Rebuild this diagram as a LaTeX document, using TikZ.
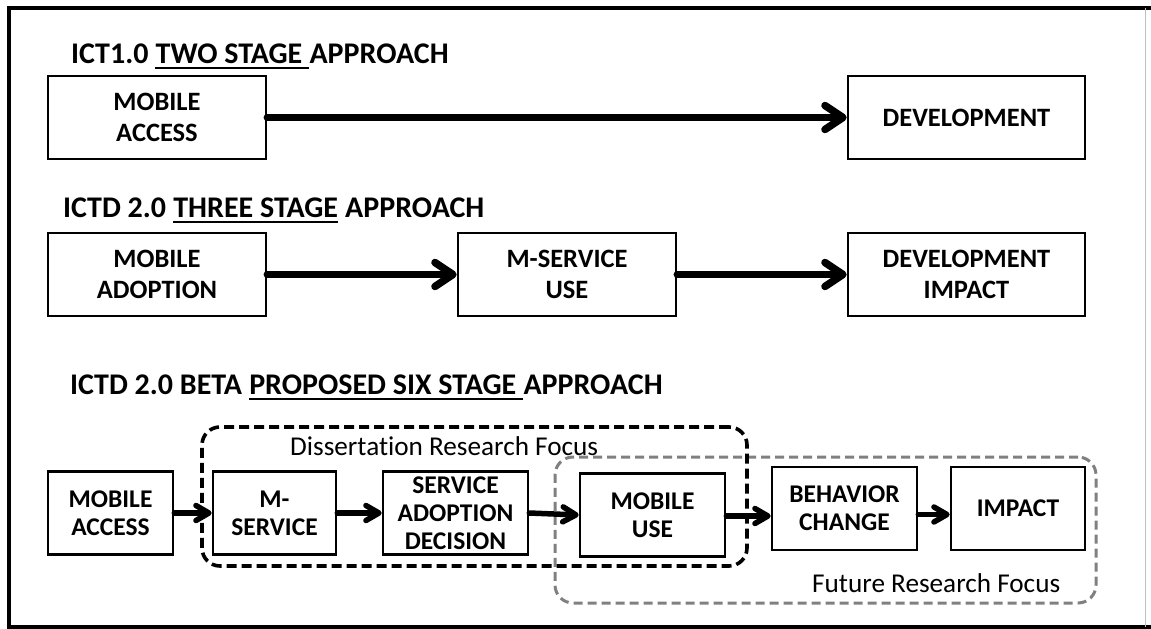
\documentclass[tikz,border=0pt]{standalone}
\usepackage{fontspec}
\setmainfont[Ligatures=NoCommon]{Carlito}
\usetikzlibrary{arrows.meta}
\begin{document}
\begin{tikzpicture}[x=1pt,y=-1pt,
  box/.style={draw=black, line width=2.6pt, fill=white, align=center, inner sep=0pt,
    font=\bfseries\fontsize{26.5}{31}\selectfont},
  sbox/.style={box, font=\bfseries\fontsize{25.5}{28}\selectfont, minimum height=83pt},
  title/.style={anchor=base west, inner sep=0pt, font=\bfseries\fontsize{30}{34}\selectfont},
  uline/.style={line width=1.8pt},
  focus/.style={anchor=base west, inner sep=0pt, font=\fontsize{27.2}{30}\selectfont},
  bigarrow/.style={line width=7.5pt, line cap=round,
    -{Straight Barb[length=18pt,width=24pt,line cap=round,line join=round]}},
  smallarrow/.style={line width=5.5pt, line cap=round,
    -{Straight Barb[length=13pt,width=15pt,line cap=round,line join=round]}},
  blackdash/.style={draw=black, line width=3.6pt, dash pattern=on 10pt off 5pt, rounded corners=18pt},
  graydash/.style={draw=black!50, line width=3pt, dash pattern=on 9pt off 5pt, rounded corners=18pt}
]
\useasboundingbox (0,0) rectangle (1151,629);
\fill[white] (0,0) rectangle (1151,629);

% frame
\draw[line width=4pt] (1151,8) -- (9,8) -- (9,627) -- (1151,627);
\draw[black!25, line width=1pt] (1145,8) -- (1145,627);

% titles
\node[title] (t1a) at (71,63) {ICT1.0\ \null};
\node[title] (t1b) at (t1a.base east) {TWO STAGE\ \null};
\node[title] (t1c) at (t1b.base east) {APPROACH};
\draw[uline] ([yshift=-5pt]t1b.base west) -- ([yshift=-5pt]t1b.base east);

\node[title] (t2a) at (63,217) {ICTD 2.0\ \null};
\node[title] (t2b) at (t2a.base east) {THREE STAGE};
\node[title] (t2c) at (t2b.base east) {\null\ APPROACH};
\draw[uline] ([yshift=-5pt]t2b.base west) -- ([yshift=-5pt]t2b.base east);

\node[title] (t3a) at (70,394) {ICTD 2.0 BETA\ \null};
\node[title] (t3b) at (t3a.base east) {PROPOSED SIX STAGE\ \null};
\node[title] (t3c) at (t3b.base east) {APPROACH};
\draw[uline] ([yshift=-5pt]t3b.base west) -- ([yshift=-5pt]t3b.base east);

% row 1
\node[box, minimum width=218pt, minimum height=83pt] (r1a) at (157,117.5) {MOBILE\\ACCESS};
\node[box, minimum width=237pt, minimum height=83pt] (r1b) at (966.5,117.5) {DEVELOPMENT};
\draw[bigarrow] (r1a) -- (r1b);

% row 2
\node[box, minimum width=218pt, minimum height=83pt] (r2a) at (157,274.5) {MOBILE\\ADOPTION};
\node[box, minimum width=218pt, minimum height=83pt] (r2b) at (567,274.5) {M-SERVICE\\USE};
\node[box, minimum width=237pt, minimum height=83pt] (r2c) at (966.5,274.5) {DEVELOPMENT\\IMPACT};
\draw[bigarrow] (r2a) -- (r2b);
\draw[bigarrow] (r2b) -- (r2c);

% focus regions
\node[graydash, minimum width=541pt, minimum height=146pt, inner sep=0pt] (future) at (825.5,530) {};
\node[blackdash, minimum width=545pt, minimum height=139pt, inner sep=0pt] (diss) at (474.5,496.5) {};
\node[focus] (dl) at (290,455) {Dissertation Research Focus};
\node[focus] (fl) at (812,592) {Future Research Focus};

% row 3
\node[sbox, minimum width=125pt] (ma) at (110.5,513) {MOBILE\\ACCESS};
\node[sbox, minimum width=123pt] (ms) at (274.5,513) {M-\\SERVICE};
\node[sbox, minimum width=145pt] (sad) at (455.5,513) {SERVICE\\ADOPTION\\DECISION};
\node[sbox, minimum width=145pt] (mu) at (652.5,515) {MOBILE\\USE};
\node[sbox, minimum width=145pt] (bc) at (844.5,508.5) {BEHAVIOR\\CHANGE};
\node[sbox, minimum width=134pt] (im) at (1018,508.5) {IMPACT};

\draw[smallarrow] (ma) -- (ms);
\draw[smallarrow] (ms) -- (sad);
\draw[smallarrow] (sad.east) -- (mu.west);
\draw[smallarrow] ([yshift=-1pt]mu.east) -- ([yshift=-1pt]mu.east -| bc.west);
\draw[smallarrow] ([yshift=-6pt]bc.east) -- ([yshift=-6pt]im.west);
\end{tikzpicture}
\end{document}
